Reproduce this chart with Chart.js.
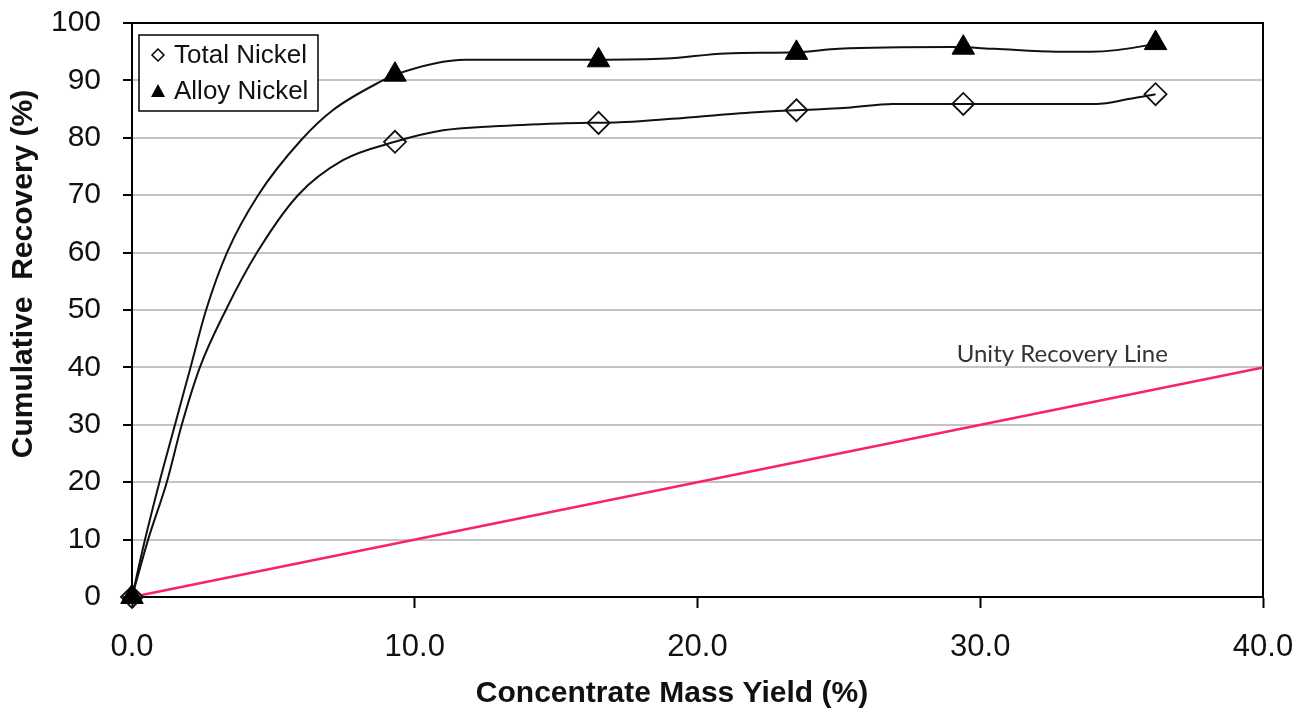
<!DOCTYPE html>
<html lang="en">
<head>
  <meta charset="UTF-8" />
  <title>Cumulative Recovery vs Concentrate Mass Yield</title>
  <script src="https://cdn.jsdelivr.net/npm/chart.js"></script>
  <style>
    html, body {
      margin: 0;
      padding: 0;
      background: #ffffff;
    }
    #wrap {
      width: 1308px;
      height: 713px;
    }
  </style>
</head>
<body>
  <div id="wrap"><canvas id="recoveryChart" width="1308" height="713"></canvas></div>

  <script>
    // measured test points
    const yieldPoints = [0, 9.3, 16.5, 23.5, 29.4, 36.2];
    const totalNickel = [0, 79.3, 82.6, 84.8, 85.9, 87.6];
    const alloyNickel = [0, 91.0, 93.5, 94.8, 95.7, 96.5];

    // smoothed trend lines through the results
    const alloyCurveX = [0, 0.46, 0.97, 1.52, 2.07, 2.62, 3.36, 4.46, 6.0, 7.1, 8.87, 9.3, 11.8, 16.4, 18.9, 21.0, 23.5, 25.0, 29.0, 30.5, 32.7, 33.9, 35.9, 36.2];
    const alloyCurveY = [0, 10, 20, 30, 40, 50, 60, 70, 79.7, 84.8, 90.0, 91.0, 93.6, 93.6, 93.8, 94.7, 94.9, 95.5, 95.8, 95.5, 95.0, 95.0, 96.1, 96.5];
    const totalCurveX = [0, 0.57, 1.23, 1.76, 2.4, 3.32, 4.42, 5.87, 7.46, 9.3, 11.0, 12.8, 15.1, 17.7, 19.8, 22.2, 25.3, 26.9, 34.1, 35.3, 36.2];
    const totalCurveY = [0, 10, 20, 30, 40, 50, 60, 70, 76.1, 79.3, 81.3, 82.0, 82.5, 82.8, 83.6, 84.5, 85.25, 85.9, 85.9, 86.8, 87.6];

    // 1:1 line
    const unityX = [0, 40];
    const unityY = [0, 40];

    const xTicks = [0, 10, 20, 30, 40];
    const yTicks = [0, 10, 20, 30, 40, 50, 60, 70, 80, 90, 100];

    const toPoints = (xs, ys) => xs.map((x, i) => ({ x: x, y: ys[i] }));

    const ARIAL = "'Liberation Sans', Arial, sans-serif";

    // frame, legend and axis titles
    const decorations = {
      id: 'decorations',
      beforeDatasetsDraw(chart) {
        const { ctx, chartArea: a } = chart;
        ctx.save();
        ctx.strokeStyle = '#000';
        ctx.lineWidth = 2;
        ctx.strokeRect(a.left, a.top, a.right - a.left, a.bottom - a.top);
        ctx.restore();
      },
      afterDatasetsDraw(chart) {
        const { ctx, scales } = chart;
        ctx.save();

        // unity line label
        ctx.fillStyle = '#333';
        ctx.font = "24px Lato, 'Open Sans', sans-serif";
        ctx.textAlign = 'center';
        ctx.textBaseline = 'middle';
        ctx.fillText('Unity Recovery Line', scales.x.getPixelForValue(32.9), scales.y.getPixelForValue(42.3));

        // legend box
        const lx = 139, ly = 35, lw = 179, lh = 76;
        ctx.fillStyle = '#fff';
        ctx.fillRect(lx, ly, lw, lh);
        ctx.strokeStyle = '#000';
        ctx.lineWidth = 1.5;
        ctx.strokeRect(lx, ly, lw, lh);

        ctx.font = '26px ' + ARIAL;
        ctx.textAlign = 'left';
        ctx.fillStyle = '#111';
        ctx.fillText('Total Nickel', 174, 56);
        ctx.fillText('Alloy Nickel', 174, 92);

        // diamond symbol
        ctx.beginPath();
        ctx.moveTo(158, 49);
        ctx.lineTo(164, 55);
        ctx.lineTo(158, 61);
        ctx.lineTo(152, 55);
        ctx.closePath();
        ctx.fillStyle = '#fff';
        ctx.fill();
        ctx.lineWidth = 1.5;
        ctx.strokeStyle = '#000';
        ctx.stroke();

        // triangle symbol
        ctx.beginPath();
        ctx.moveTo(158, 84);
        ctx.lineTo(165, 97);
        ctx.lineTo(151, 97);
        ctx.closePath();
        ctx.fillStyle = '#000';
        ctx.fill();

        // axis titles
        ctx.fillStyle = '#111';
        ctx.font = 'bold 30px ' + ARIAL;
        ctx.textAlign = 'center';
        ctx.fillText('Concentrate Mass Yield (%)', 672, 694);

        ctx.translate(24, 274);
        ctx.rotate(-Math.PI / 2);
        ctx.font = 'bold 30px ' + ARIAL;
        ctx.fillText('Cumulative  Recovery (%)', 0, 0);
        ctx.restore();
      }
    };

    const ctx = document.getElementById('recoveryChart').getContext('2d');
    new Chart(ctx, {
      type: 'scatter',
      data: {
        datasets: [
          {
            label: 'Unity Recovery Line',
            data: toPoints(unityX, unityY),
            showLine: true,
            borderColor: '#f7246d',
            borderWidth: 2.5,
            pointRadius: 0,
            order: 4,
            clip: false
          },
          {
            label: 'Total Nickel trend',
            data: toPoints(totalCurveX, totalCurveY),
            showLine: true,
            borderColor: '#111',
            borderWidth: 2,
            pointRadius: 0,
            cubicInterpolationMode: 'monotone',
            order: 3,
            clip: false
          },
          {
            label: 'Alloy Nickel trend',
            data: toPoints(alloyCurveX, alloyCurveY),
            showLine: true,
            borderColor: '#111',
            borderWidth: 2,
            pointRadius: 0,
            cubicInterpolationMode: 'monotone',
            order: 3,
            clip: false
          },
          {
            label: 'Total Nickel',
            data: toPoints(yieldPoints, totalNickel),
            showLine: false,
            pointStyle: 'rectRot',
            pointRadius: 11,
            pointBackgroundColor: 'rgba(255,255,255,0)',
            pointBorderColor: '#111',
            pointBorderWidth: 1.8,
            order: 1,
            clip: false
          },
          {
            label: 'Alloy Nickel',
            data: toPoints(yieldPoints, alloyNickel),
            showLine: false,
            pointStyle: 'triangle',
            pointRadius: 13,
            pointBackgroundColor: '#000',
            pointBorderColor: '#000',
            pointBorderWidth: 1,
            order: 0,
            clip: false
          }
        ]
      },
      options: {
        responsive: false,
        animation: false,
        layout: { padding: { left: 0, right: 45, top: 23, bottom: 0 } },
        plugins: {
          legend: { display: false },
          tooltip: { enabled: false }
        },
        scales: {
          x: {
            type: 'linear',
            min: 0,
            max: 40,
            afterFit: s => { s.height = 116; s.paddingLeft = 0; s.paddingRight = 0; },
            afterBuildTicks: s => { s.ticks = xTicks.map(v => ({ value: v })); },
            ticks: {
              color: '#111',
              font: { family: ARIAL, size: 31 },
              padding: 21,
              maxRotation: 0,
              callback: v => v.toFixed(1)
            },
            grid: { drawOnChartArea: false, tickLength: 11, tickColor: '#000', tickWidth: 2 },
            border: { display: true, color: '#000', width: 2 }
          },
          y: {
            min: 0,
            max: 100,
            afterFit: s => { s.width = 132; s.paddingTop = 0; s.paddingBottom = 0; },
            afterBuildTicks: s => { s.ticks = yTicks.map(v => ({ value: v })); },
            ticks: {
              color: '#111',
              font: { family: ARIAL, size: 30 },
              padding: 22
            },
            grid: { color: '#c4c4c4', lineWidth: 2, tickLength: 9, tickColor: '#000', tickWidth: 2 },
            border: { display: true, color: '#000', width: 2 }
          }
        }
      },
      plugins: [decorations]
    });
  </script>
</body>
</html>
